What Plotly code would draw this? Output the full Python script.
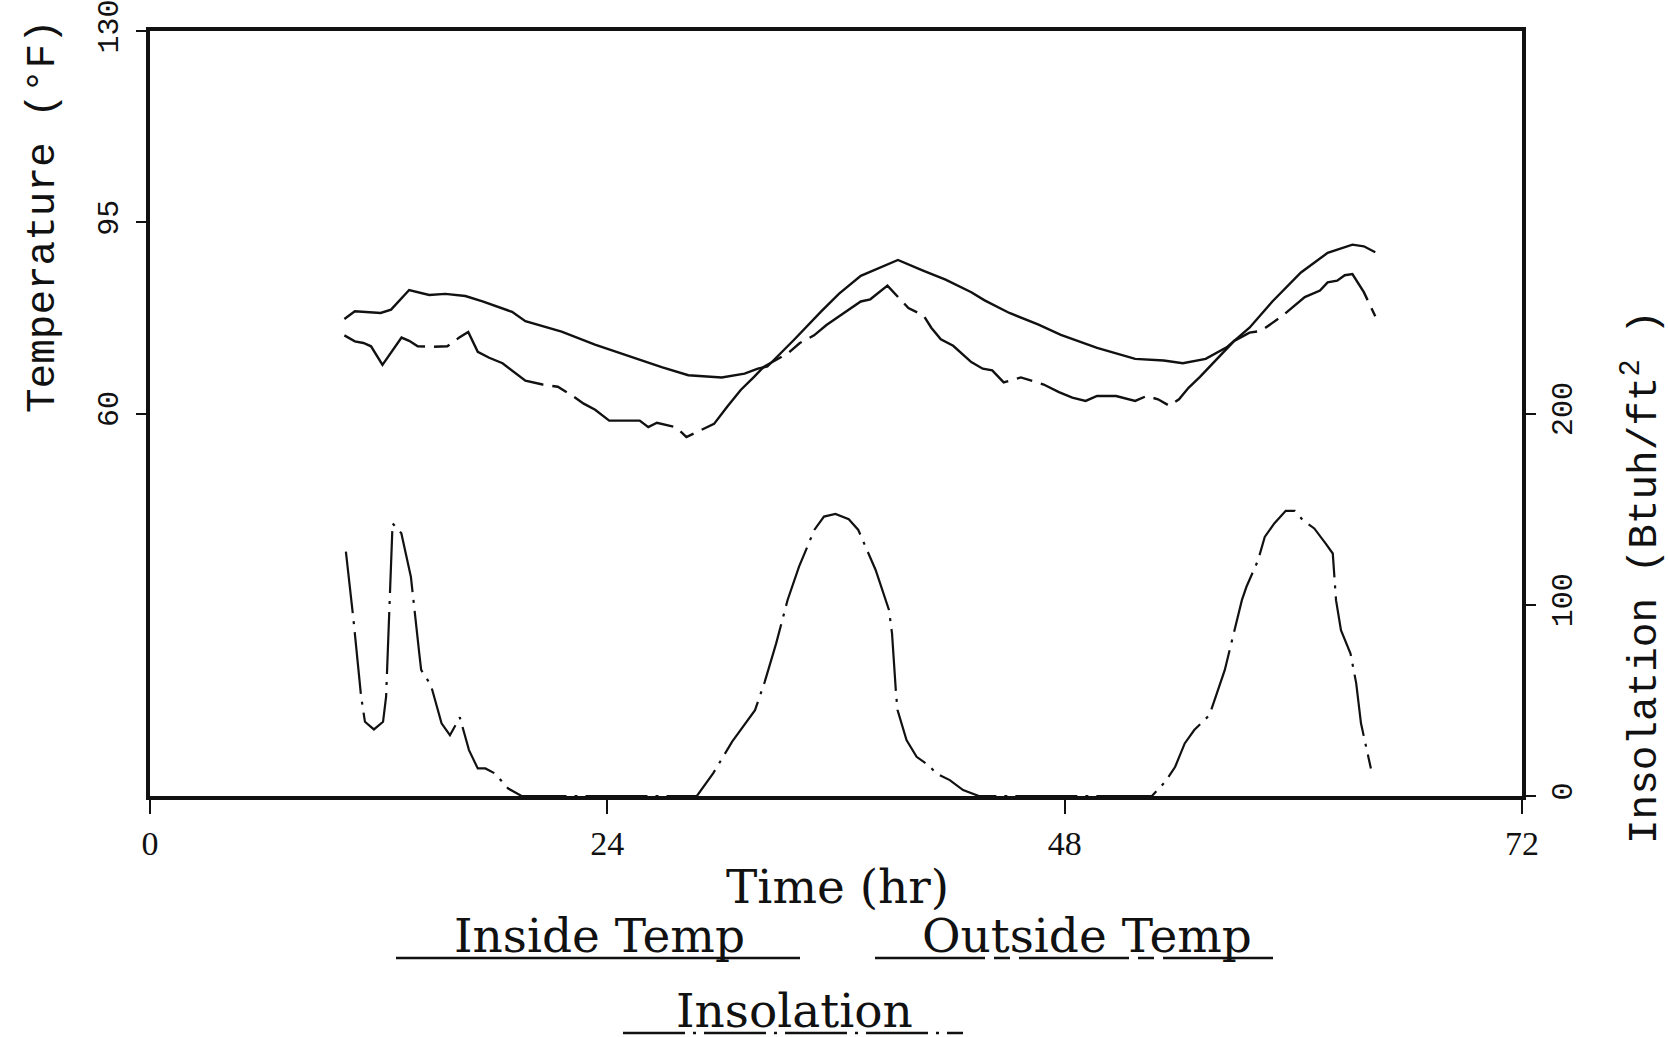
import plotly.graph_objects as go

# ---------------- data ----------------
inside_t = [10.2, 10.75, 12.1, 12.65, 13.6, 14.65, 15.5, 16.55, 17.45, 19.0, 19.7, 21.6, 23.35, 25.1,
            26.85, 28.25, 30.0, 31.2, 31.9, 32.4, 33.8, 35.2, 36.15, 37.3, 39.25, 40.6, 41.75, 43.1,
            43.8, 45.1, 46.6, 47.8, 49.7, 51.7, 53.2, 54.2, 55.4, 56.5, 57.7, 58.9, 60.4, 61.8, 63.1,
            63.7, 64.3]
inside_temp = [77.3, 78.7, 78.4, 79.0, 82.6, 81.7, 81.9, 81.5, 80.5, 78.6, 76.9, 75.0, 72.6, 70.5,
               68.5, 67.0, 66.6, 67.3, 68.2, 68.6, 73.5, 78.6, 81.9, 85.2, 88.1, 86.1, 84.5, 82.2,
               80.7, 78.4, 76.3, 74.4, 72.0, 70.0, 69.7, 69.2, 70.0, 72.1, 75.7, 80.5, 85.8, 89.4, 90.9,
               90.6, 89.5]

outside_t = [10.2, 10.75, 11.2, 11.6, 12.2, 13.2, 13.6, 14.05, 14.8, 15.6, 16.23, 16.7, 17.2, 17.8,
             18.5, 19.0, 19.7, 20.6, 21.4, 22.1, 22.76, 23.36, 24.1, 25.7, 26.15, 26.6, 27.6, 28.15,
             28.85, 29.6, 30.3, 31.0, 31.7, 32.2, 33.5, 34.1, 34.85, 35.5, 36.3, 37.3, 37.8, 38.7,
             39.8, 40.6, 41.0, 41.5, 42.15, 43.1, 43.7, 44.2, 44.8, 45.7, 46.9, 47.7, 48.4, 49.1,
             49.7, 50.7, 51.7, 52.3, 52.9, 53.5, 54.0, 54.5, 55.1, 56.9, 57.7, 58.3, 59.4, 60.0,
             60.6, 61.4, 61.8, 62.3, 62.7, 63.1, 63.7, 64.3]
outside_temp = [74.3, 73.2, 72.9, 72.3, 68.9, 73.9, 73.3, 72.3, 72.2, 72.3, 73.9, 74.9, 71.3, 70.2,
                69.2, 67.9, 66.0, 65.3, 64.9, 63.4, 61.8, 60.7, 58.7, 58.7, 57.5, 58.3, 57.5, 55.7,
                56.9, 58.1, 61.3, 64.3, 66.7, 68.5, 71.1, 72.9, 74.3, 76.2, 78.1, 80.5, 80.9, 83.4,
                79.3, 77.9, 75.7, 73.6, 72.4, 69.4, 68.2, 67.9, 65.7, 66.6, 65.3, 63.9, 62.9, 62.3,
                63.2, 63.2, 62.3, 63.2, 62.6, 61.4, 62.6, 64.7, 66.7, 73.3, 74.8, 75.1, 77.8, 79.6,
                81.3, 82.5, 84.0, 84.3, 85.3, 85.5, 82.2, 77.8]

insol_t = [10.28, 10.68, 11.08, 11.28, 11.75, 12.23, 12.39, 12.53, 12.73, 13.19, 13.49, 13.69, 14.13,
           14.23, 14.74, 15.3, 15.74, 16.26, 16.74, 16.94, 17.2, 17.6, 18.1, 18.8, 19.41, 19.5,
           28.7, 29.55, 30.55, 31.75, 32.26, 32.86, 33.46, 34.06, 34.86, 35.37, 35.97, 36.67, 37.17,
           37.57, 38.08, 38.78, 38.94, 39.15, 39.23, 39.7, 40.23, 40.84, 41.27, 41.97, 42.67, 43.36,
           43.5, 52.58, 53.28, 53.8, 54.3, 54.8, 55.6, 56.4, 57.3, 57.54, 58.15, 58.5, 59.0, 59.6,
           60.07, 60.5, 61.1, 61.7, 62.07, 62.24, 62.5, 63.0, 63.3, 63.55, 64.07]
insolation = [127.8, 92.0, 51.9, 38.8, 34.8, 38.8, 51.9, 92.9, 142.6, 137.4, 123.4, 114.7, 74.6,
              65.9, 58.0, 38.0, 31.8, 41.1, 24.0, 19.6, 14.4, 14.4, 11.8, 3.9, 0.5, 0.0,
              0.0, 11.8, 28.4, 44.9, 59.7, 79.8, 102.5, 119.9, 139.1, 146.1, 147.5, 144.7, 139.1,
              129.5, 118.2, 97.3, 85.0, 53.6, 44.9, 29.3, 20.5, 16.2, 11.8, 8.3, 3.1, 0.5,
              0.0, 0.0, 7.5, 15.3, 27.5, 34.5, 42.3, 65.8, 102.4, 109.4, 123.3, 135.5, 142.5, 149.1,
              149.1, 144.2, 139.9, 132.0, 126.8, 102.4, 86.7, 74.5, 58.9, 38.0, 14.4]

x_ticks = [0, 24, 48, 72]
temp_ticks = [60, 95, 130]
insol_ticks = [0, 100, 200]

# ---------------- styling ----------------
W, H = 1669, 1037
L, R, T, B = 150, 1522, 31, 796
INK = "#111111"
OUT_DASH = "110px,9px,16px,9px"
INS_DASH = "62px,8px,3px,8px"
SERIF = "DejaVu Serif"
MONO = "Liberation Mono"


def px(x):
    return (x - L) / (R - L)


def py(y):
    return (B - y) / (B - T)


fig = go.Figure()
fig.add_trace(go.Scatter(x=inside_t, y=inside_temp, mode="lines", name="Inside Temp",
                         line=dict(color=INK, width=2.4)))
fig.add_trace(go.Scatter(x=outside_t, y=outside_temp, mode="lines", name="Outside Temp",
                         line=dict(color=INK, width=2.4, dash=OUT_DASH)))
fig.add_trace(go.Scatter(x=insol_t, y=insolation, mode="lines", name="Insolation", yaxis="y2",
                         line=dict(color=INK, width=2.2, dash=INS_DASH)))

fig.update_layout(
    width=W, height=H,
    margin=dict(l=L, r=W - R, t=T, b=H - B, pad=0, autoexpand=False),
    paper_bgcolor="white", plot_bgcolor="white",
    showlegend=False,
    xaxis=dict(range=[0, 72], tickvals=x_ticks, ticktext=[str(v) for v in x_ticks],
               ticks="outside", ticklen=14, tickwidth=2, tickcolor=INK,
               showline=True, linewidth=4, linecolor=INK, mirror=True,
               showgrid=False, zeroline=False, ticklabeloverflow="allow", automargin=False,
               tickfont=dict(family="Liberation Serif", size=34, color=INK)),
    yaxis=dict(range=[-10, 130], tickvals=temp_ticks, ticktext=[str(v) for v in temp_ticks],
               ticks="outside", ticklen=10, tickwidth=1.5, tickcolor=INK, tickangle=-90,
               ticklabelstandoff=6, ticklabeloverflow="allow", automargin=False,
               showline=True, linewidth=4, linecolor=INK, mirror=True,
               showgrid=False, zeroline=False,
               tickfont=dict(family=MONO, size=30, color=INK)),
    yaxis2=dict(range=[0, 400], tickvals=insol_ticks, ticktext=[str(v) for v in insol_ticks],
                overlaying="y", side="right", ticklabeloverflow="allow", automargin=False,
                ticks="outside", ticklen=10, tickwidth=1.5, tickcolor=INK, tickangle=-90,
                showline=True, linewidth=4, linecolor=INK,
                showgrid=False, zeroline=False,
                tickfont=dict(family=MONO, size=30, color=INK)),
)

annotations = [
    dict(text="Temperature (°F)", x=px(43), y=py(216), textangle=-90,
         font=dict(family=MONO, size=41, color=INK)),
    dict(text="Insolation (Btuh/ft<sup>2</sup> )", x=px(1641), y=py(577), textangle=-90,
         font=dict(family=MONO, size=41, color=INK)),
    dict(text="Time (hr)", x=px(837), y=py(886),
         font=dict(family=SERIF, size=47, color=INK)),
    dict(text="Inside Temp", x=px(599), y=py(935),
         font=dict(family=SERIF, size=47, color=INK)),
    dict(text="Outside Temp", x=px(1087), y=py(935),
         font=dict(family=SERIF, size=47, color=INK)),
    dict(text="Insolation", x=px(794), y=py(1011),
         font=dict(family=SERIF, size=47, color=INK)),
]
for a in annotations:
    a.update(xref="paper", yref="paper", showarrow=False, xanchor="center", yanchor="middle")
fig.update_layout(annotations=annotations)

underlines = [
    (396, 800, 958, "solid"),
    (875, 1273, 958, OUT_DASH),
    (623, 963, 1033, INS_DASH),
]
for x0, x1, yy, d in underlines:
    fig.add_shape(type="line", xref="paper", yref="paper",
                  x0=px(x0), x1=px(x1), y0=py(yy), y1=py(yy),
                  line=dict(color=INK, width=2.4, dash=d))

fig.write_html("out.html")
